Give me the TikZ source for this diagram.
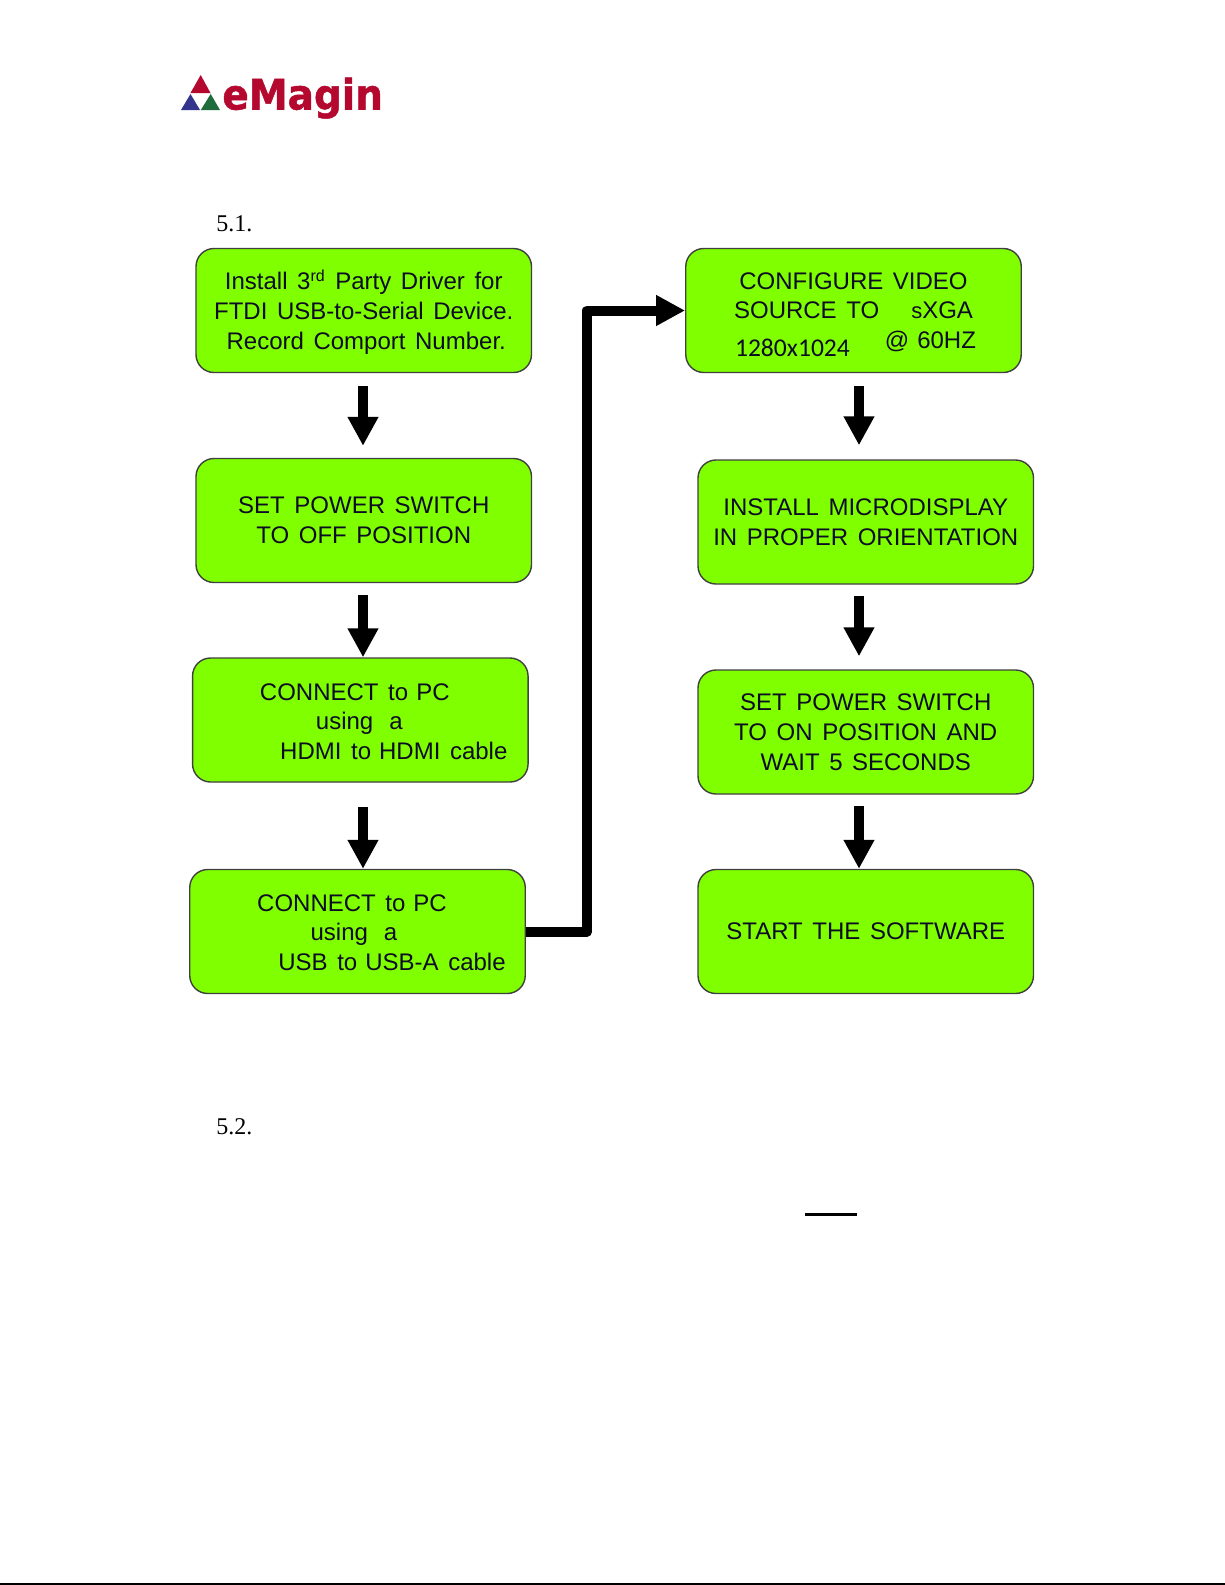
\documentclass[tikz,border=0pt]{standalone}
\usepackage{fontspec}
\setmainfont{Liberation Sans}
\newfontfamily\refserif{Liberation Serif}
\newfontfamily\logofont[BoldFeatures={FakeBold=1.2}]{DejaVu Sans}
\newfontfamily\calfont{Carlito}
\usetikzlibrary{arrows.meta}
\definecolor{boxgreen}{HTML}{80FF00}
\definecolor{boxedge}{HTML}{404040}
\definecolor{logored}{HTML}{B4082F}
\definecolor{logoblue}{HTML}{33348E}
\definecolor{logogreen}{HTML}{1E6B3C}
\definecolor{boxtext}{HTML}{0C0C24}
% shift a centred line by #1 px, inside a zero-width box so that it never wraps
\newcommand{\lineoff}[2]{\mbox{\makebox[0pt][c]{\hspace*{#1pt}#2}}}
\newcommand{\wsp}{\hspace{0.4em}}
\tikzset{
  flowbox/.style={draw=boxedge, fill=boxgreen, line width=0.7pt, rounded corners=9pt,
    minimum width=167.75pt, minimum height=62pt, inner sep=0pt, text width=167.75pt, align=center,
    text=boxtext, font=\fontsize{12}{14.9}\selectfont},
  flowarrow/.style={line width=5pt, draw=black, -{Triangle[length=14.5pt,width=14.5pt]}, line join=round},
  secnum/.style={anchor=base west, inner sep=0pt, font=\refserif\fontsize{12}{14}\selectfont, text=black},
  rulethin/.style={draw=black, line width=1pt},
  rulethick/.style={draw=black, line width=1.25pt}
}
\begin{document}
\begin{tikzpicture}[x=0.5pt,y=-0.5pt]
\useasboundingbox (0,0) rectangle (1225,1585);
\fill[white] (0,0) rectangle (1225,1585);
% logo
\fill[logored] (200.7,75) -- (210.5,93) -- (190.5,93) -- cycle;
\fill[logoblue] (190.5,94) -- (200,110) -- (181,110) -- cycle;
\fill[logogreen] (210.7,94) -- (220,110) -- (200.8,110) -- cycle;
\node[anchor=base west, inner sep=0pt, text=logored, font=\logofont\bfseries\fontsize{19.5}{22}\selectfont] (logo) at (222,109.5) {\scalebox{1}[1.08]{eMagin}};
% section numbers
\node[secnum] (s51) at (216,231) {5.1.};
\node[secnum] (s52) at (216,1134) {5.2.};
% left column
\node[flowbox] (b1) at (363.75,310.5) {\rule{0pt}{11.5pt}Install\wsp 3\textsuperscript{rd}\wsp Party\wsp Driver\wsp for\\FTDI\wsp USB-to-Serial\wsp Device.\\\lineoff{2.5}{Record\wsp Comport\wsp Number.}};
\node[flowbox] (b2) at (363.75,520.5) {SET\wsp POWER\wsp SWITCH\\TO\wsp OFF\wsp POSITION};
\node[flowbox] (b3) at (360.3,720) {\rule{0pt}{10pt}\lineoff{-5.5}{CONNECT\wsp to\ PC}\\\lineoff{-1}{using\ \ a}\\\lineoff{33.5}{HDMI\wsp to\ HDMI\wsp cable}};
\node[flowbox] (b4) at (357.5,931.5) {\rule{0pt}{9.5pt}\lineoff{-5.5}{CONNECT\wsp to\ PC}\\\lineoff{-3.5}{using\ \ a}\\\lineoff{34.5}{USB\wsp to\ USB-A\wsp cable}};
% right column
\node[flowbox] (r1) at (853.5,310.5) {\rule{0pt}{10pt}CONFIGURE\wsp VIDEO\\SOURCE\wsp TO\ \ \ \ {\fontsize{11}{14}\selectfont s}XGA\\\lineoff{2}{\smash{\raisebox{-4pt}{\calfont\fontsize{12.8}{14.9}\selectfont 1280x1024}}\hspace{17.5pt}@\ 60HZ}};
\node[flowbox] (r2) at (865.75,522) {INSTALL\wsp MICRODISPLAY\\IN\wsp PROPER\wsp ORIENTATION};
\node[flowbox] (r3) at (865.75,732) {SET\wsp POWER\wsp SWITCH\\TO\wsp ON\wsp POSITION\wsp AND\\WAIT\wsp 5\wsp SECONDS};
\node[flowbox] (r4) at (865.75,931.5) {START\wsp THE\wsp SOFTWARE};
% connector guides
\coordinate (ax) at (363,0);
\coordinate (bx) at (859,0);
\coordinate (ex) at (587,0);
% connectors
\draw[flowarrow, shorten <=6.5pt, shorten >=6pt] (b1.south -| ax) -- (b2.north -| ax);
\draw[flowarrow, shorten <=6pt] (b2.south -| ax) -- (b3.north -| ax);
\draw[flowarrow, shorten <=12pt] (b3.south -| ax) -- (b4.north -| ax);
\draw[flowarrow] (b4.east) -- (b4.east -| ex) -- (r1.west -| ex) -- (r1.west);
\draw[flowarrow, shorten <=6.5pt, shorten >=7pt] (r1.south -| bx) -- (r2.north -| bx);
\draw[flowarrow, shorten <=5.5pt, shorten >=6.5pt] (r2.south -| bx) -- (r3.north -| bx);
\draw[flowarrow, shorten <=5.5pt] (r3.south -| bx) -- (r4.north -| bx);
% rules
\coordinate (u1) at (805,1214.5);
\coordinate (u2) at (857,1214.5);
\draw[rulethick] (u1) -- (u2);
\coordinate (p1) at (0,1584);
\coordinate (p2) at (1225,1584);
\draw[rulethin] (p1) -- (p2);
\end{tikzpicture}
\end{document}
